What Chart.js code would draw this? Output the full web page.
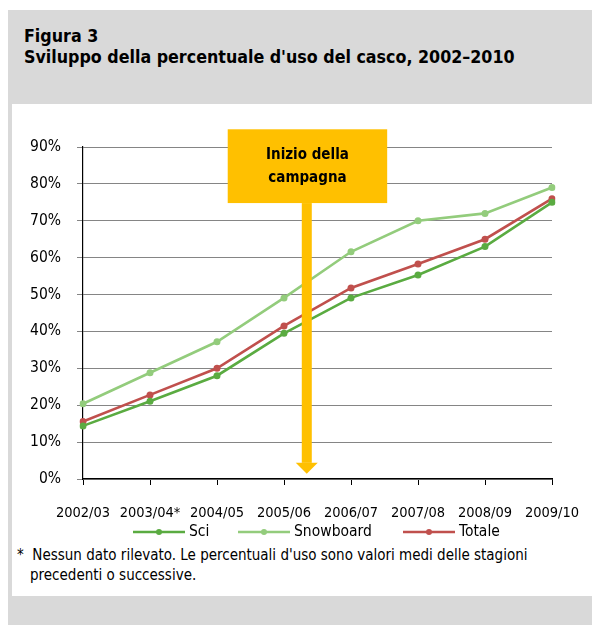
<!DOCTYPE html>
<html>
<head>
<meta charset="utf-8">
<script src="https://cdn.jsdelivr.net/npm/chart.js@4.4.0/dist/chart.umd.min.js"></script>
<style>
  body { margin:0; width:592px; height:625px; background:#fff; position:relative; overflow:hidden;
         font-family:"DejaVu Sans Condensed",sans-serif; }
  #frame { position:absolute; left:8px; top:10px; width:600px; height:615px; background:#d9d9d9; }
  #panel { position:absolute; left:12px; top:104px; width:590px; height:492px; background:#fff; }
  #title { position:absolute; left:24px; top:26px; font-weight:bold; font-size:17.7px; line-height:21px; color:#000; }
  #note { position:absolute; left:17px; top:545px; font-size:15px; line-height:20px; color:#000; }
  #note .l2 { padding-left:13px; }
  canvas { position:absolute; left:0; top:0; }
</style>
</head>
<body>
<div id="frame"></div>
<div id="panel"></div>
<div id="title">Figura 3<br>Sviluppo della percentuale d'uso del casco, 2002–2010</div>
<canvas id="myChart" width="592" height="545"></canvas>
<div id="note">*&nbsp; Nessun dato rilevato. Le percentuali d'uso sono valori medi delle stagioni<br><span class="l2">precedenti o successive.</span></div>
<script>
/*dati*/
const stagioni = ["2002/03","2003/04*","2004/05","2005/06","2006/07","2007/08","2008/09","2009/10"];
const sci = [14.4, 21.1, 28, 39.5, 49.1, 55.3, 63, 75];
const snowboard = [20.4, 28.8, 37.2, 49.1, 61.6, 70, 72, 79];
const totale = [15.6, 22.8, 30, 41.5, 51.8, 58.3, 65, 76];
const yTicks = [0, 10, 20, 30, 40, 50, 60, 70, 80, 90];
const campagna = ["Inizio della", "campagna"];

const font = "'DejaVu Sans Condensed',sans-serif";

// freccia gialla "Inizio della campagna"
const arrowPlugin = {
  id: "arrow",
  afterDatasetsDraw(chart) {
    const ctx = chart.ctx, x = chart.scales.x, y = chart.scales.y;
    const cx = x.getPixelForValue(3.34);
    const top = y.getPixelForValue(74.8);
    const tip = y.getPixelForValue(1.4);
    ctx.save();
    ctx.fillStyle = "#ffc000";
    ctx.fillRect(cx - 5, top, 10, tip - 11 - top);
    ctx.beginPath();
    ctx.moveTo(cx - 11, tip - 11);
    ctx.lineTo(cx + 11, tip - 11);
    ctx.lineTo(cx, tip);
    ctx.closePath();
    ctx.fill();
    const bx1 = x.getPixelForValue(2.16), bx2 = x.getPixelForValue(4.54);
    const by1 = y.getPixelForValue(94.8);
    ctx.fillRect(bx1, by1, bx2 - bx1, top - by1);
    ctx.fillStyle = "#000";
    ctx.font = "bold 15px " + font;
    ctx.textAlign = "center";
    ctx.textBaseline = "middle";
    ctx.fillText(campagna[0], (bx1 + bx2) / 2, by1 + 26);
    ctx.fillText(campagna[1], (bx1 + bx2) / 2, by1 + 49);
    ctx.restore();
  }
};

// legenda con linea e punto
const legendPlugin = {
  id: "lineLegend",
  afterDraw(chart) {
    const ctx = chart.ctx;
    const xs = [133, 238, 403];
    const yy = 532;
    ctx.save();
    ctx.font = "15.5px " + font;
    ctx.textBaseline = "middle";
    chart.data.datasets.forEach(function (ds, i) {
      ctx.strokeStyle = ds.borderColor;
      ctx.fillStyle = ds.borderColor;
      ctx.lineWidth = 2.5;
      ctx.beginPath();
      ctx.moveTo(xs[i], yy);
      ctx.lineTo(xs[i] + 52, yy);
      ctx.stroke();
      ctx.beginPath();
      ctx.arc(xs[i] + 26, yy, 3, 0, Math.PI * 2);
      ctx.fill();
      ctx.fillStyle = "#000";
      ctx.fillText(ds.label, xs[i] + 56, yy);
    });
    ctx.restore();
  }
};

new Chart("myChart", {
  type: "line",
  data: {
    labels: stagioni,
    datasets: [{
      label: "Sci",
      data: sci,
      borderColor: "#5aab41",
      backgroundColor: "#5aab41"
    },{
      label: "Snowboard",
      data: snowboard,
      borderColor: "#93cc7c",
      backgroundColor: "#93cc7c"
    },{
      label: "Totale",
      data: totale,
      borderColor: "#c0504d",
      backgroundColor: "#c0504d"
    }]
  },
  options: {
    responsive: false,
    animation: false,
    layout: { padding: { left: 0, top: 147, right: 40, bottom: 26 } },
    elements: {
      line: { borderWidth: 2.6, tension: 0 },
      point: { radius: 3.5, hoverRadius: 3.5, borderWidth: 0 }
    },
    plugins: {
      legend: { display: false },
      tooltip: { enabled: false }
    },
    scales: {
      x: {
        offset: false,
        afterFit: s => { s.height = 40; s.paddingLeft = 0; s.paddingRight = 0; },
        grid: { display: true, drawOnChartArea: false, drawTicks: true, tickLength: 6, color: "#000" },
        border: { color: "#000", width: 1.2 },
        ticks: { color: "#000", padding: 20, maxRotation: 0, autoSkip: false, font: { family: font, size: 14.5 } }
      },
      y: {
        min: 0,
        max: 90,
        afterFit: s => { s.width = 83; },
        afterBuildTicks: s => { s.ticks = yTicks.map(v => ({ value: v })); },
        grid: { color: "#858585", lineWidth: 1, tickLength: 6 },
        border: { color: "#000", width: 1.2 },
        ticks: { color: "#000", padding: 16, font: { family: font, size: 15.5 }, callback: v => v + "%" }
      }
    }
  },
  plugins: [arrowPlugin, legendPlugin]
});
</script>
</body>
</html>
